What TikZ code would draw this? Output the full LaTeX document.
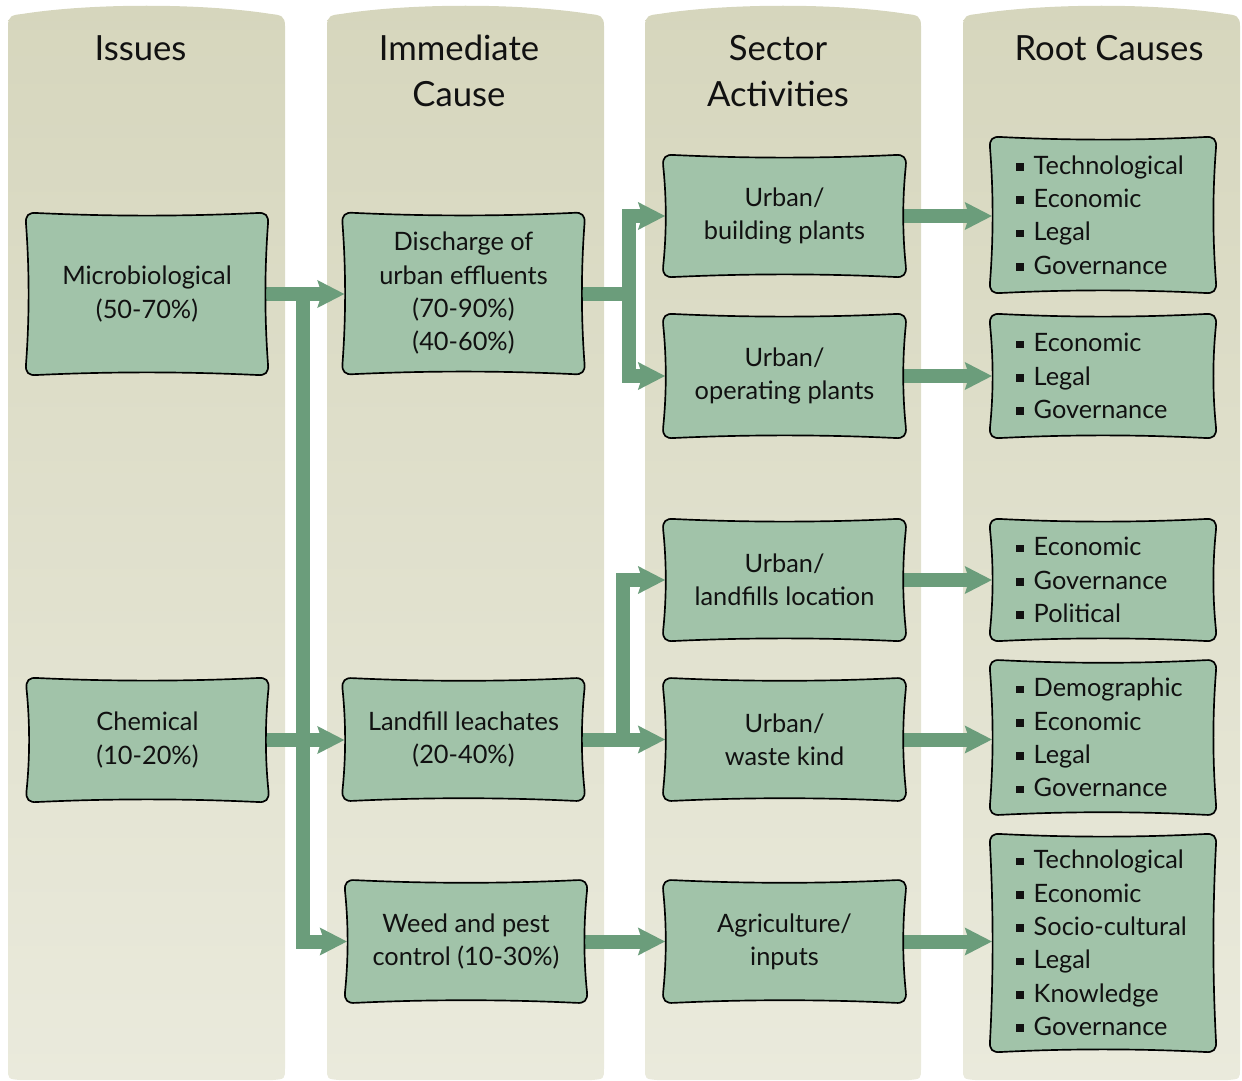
\documentclass[tikz,border=0pt]{standalone}
\usepackage{fontspec}
\setmainfont{Lato}
\usetikzlibrary{arrows.meta,calc}

\definecolor{colTop}{HTML}{D6D6BD}
\definecolor{colBot}{HTML}{EAEADC}
\definecolor{boxFill}{HTML}{A1C3A9}
\definecolor{arrowGreen}{HTML}{6B9D7B}
\definecolor{ink}{HTML}{111111}

\pgfdeclarelayer{bg}
\pgfdeclarelayer{conn}
\pgfdeclarelayer{mid}
\pgfsetlayers{bg,conn,mid,main}

% small square bullet for the cause lists
\newcommand\bx{\rule[0.14em]{0.3em}{0.3em}\hspace{0.4em}}

% outline of a box with slightly concave sides, drawn behind the node text
\newcommand\bowbox[1]{%
\begin{pgfonlayer}{mid}
\draw[boxline] let \p1=(#1.north west), \p2=(#1.south east),
  \n1={(\x2-\x1-16pt)/3}, \n2={(\y1-\y2-16pt)/3} in
  (\x1+8pt,\y1)
  .. controls (\x1+8pt+\n1,\y1-2.6pt) and (\x2-8pt-\n1,\y1-2.6pt) .. (\x2-8pt,\y1)
  .. controls (\x2-2pt,\y1+0.6pt) and (\x2+0.6pt,\y1-2pt) .. (\x2,\y1-8pt)
  .. controls (\x2-2.6pt,\y1-8pt-\n2) and (\x2-2.6pt,\y2+8pt+\n2) .. (\x2,\y2+8pt)
  .. controls (\x2+0.6pt,\y2+2pt) and (\x2-2pt,\y2-0.6pt) .. (\x2-8pt,\y2)
  .. controls (\x2-8pt-\n1,\y2+2.6pt) and (\x1+8pt+\n1,\y2+2.6pt) .. (\x1+8pt,\y2)
  .. controls (\x1+2pt,\y2-0.6pt) and (\x1-0.6pt,\y2+2pt) .. (\x1,\y2+8pt)
  .. controls (\x1+2.6pt,\y2+8pt+\n2) and (\x1+2.6pt,\y1-8pt-\n2) .. (\x1,\y1-8pt)
  .. controls (\x1-0.6pt,\y1-2pt) and (\x1+2pt,\y1+0.6pt) .. cycle;
\end{pgfonlayer}}

% shaded column panel with an arched top
\newcommand\colpanel[2]{%
\begin{pgfonlayer}{bg}
\shade[top color=colTop,bottom color=colBot]
  (#1,1068) -- (#1,26)
  .. controls (#1,16) and (#1+4,15) .. (#1+14,14)
  .. controls ({#1+0.3*(#2-#1)},3) and ({#2-0.3*(#2-#1)},3) .. (#2-14,14)
  .. controls (#2-4,15) and (#2,16) .. (#2,26)
  -- (#2,1068) .. controls (#2,1079) .. (#2-12,1080)
  -- (#1+12,1080) .. controls (#1,1079) .. (#1,1068) -- cycle;
\end{pgfonlayer}}

\tikzset{
  boxline/.style={draw=black, line width=1.25pt, fill=boxFill},
  box/.style={inner sep=0pt, outer sep=0pt, align=center, text=ink,
    font=\fontsize{19}{25}\selectfont, minimum width=181.5pt},
  rootbox/.style={inner xsep=19.5pt, inner ysep=0pt, outer sep=0pt,
    text width=130.5pt, align=left, text=ink,
    font=\fontsize{19}{25}\selectfont},
  title/.style={align=center, text=ink, inner sep=0pt,
    font=\fontsize{26}{34.5}\selectfont},
  conn/.style={draw=arrowGreen, line width=10.5pt, line join=miter,
    shorten <=-4pt},
  arr/.style={conn, -{Stealth[length=20pt,width=20pt,inset=3pt]},
    shorten >=-1.5pt},
}

\begin{document}
\begin{tikzpicture}[x=0.75pt,y=-0.75pt]
\useasboundingbox (0,0) rectangle (1242,1081);

\colpanel{8}{285}
\colpanel{327}{604}
\colpanel{645}{921}
\colpanel{963}{1240}

% column headings
\node[title] (t1) at (140.5,48) {Issues};
\node[title] (t2) at (459,71) {Immediate\\Cause};
\node[title] (t3) at (778,71) {Sector\\Activities};
\node[title] (t4) at (1109,48) {Root Causes};

% issues
\node[box, minimum height=121.5pt] (micro) at (147,294) {Microbiological\\(50-70\%)};
\node[box, minimum height=93pt] (chem) at (147.5,740) {Chemical\\(10-20\%)};

% immediate causes
\node[box, minimum height=121pt] (disc) at (463.5,293.5) {Discharge of\\urban effluents\\(70-90\%)\\(40-60\%)};
\node[box, minimum height=92pt] (land) at (463.5,739.5) {Landfill leachates\\(20-40\%)};
\node[box, minimum height=92pt] (weed) at (466,941.5) {Weed and pest\\control (10-30\%)};

% sector activities
\node[box, minimum width=182pt, minimum height=91.5pt] (bld) at (784.5,216) {Urban/\\building plants};
\node[box, minimum width=182pt, minimum height=93pt] (op) at (784.5,376) {Urban/\\operating plants};
\node[box, minimum width=182pt, minimum height=91.5pt] (loc) at (784.5,580) {Urban/\\landfills location};
\node[box, minimum width=182pt, minimum height=92pt] (waste) at (784.5,739.5) {Urban/\\waste kind};
\node[box, minimum width=182pt, minimum height=92pt] (agri) at (784.5,941.5) {Agriculture/\\inputs};

% root causes
\node[rootbox, minimum height=117pt] (rc1) at (1103,215) {\bx Technological\\\bx Economic\\\bx Legal\\\bx Governance};
\node[rootbox, minimum height=93pt] (rc2) at (1103,376) {\bx Economic\\\bx Legal\\\bx Governance};
\node[rootbox, minimum height=91.5pt] (rc3) at (1103,580) {\bx Economic\\\bx Governance\\\bx Political};
\node[rootbox, minimum height=116pt] (rc4) at (1103,737.5) {\bx Demographic\\\bx Economic\\\bx Legal\\\bx Governance};
\node[rootbox, minimum height=163.5pt] (rc5) at (1103,943) {\bx Technological\\\bx Economic\\\bx Socio-cultural\\\bx Legal\\\bx Knowledge\\\bx Governance};

\foreach \bname in {micro,chem,disc,land,weed,bld,op,loc,waste,agri,rc1,rc2,rc3,rc4,rc5}
  {\bowbox{\bname}}

% connectors
\begin{pgfonlayer}{conn}
\coordinate (j1) at (303,0 |- micro.east);
\coordinate (j2) at (629,0 |- disc.east);
\coordinate (j3) at (623,0 |- land.east);

\draw[arr] (micro.east) -- (micro.east -| disc.west);
\draw[arr] (j1) |- (weed.west);
\draw[arr] (chem.east) -- (chem.east -| land.west);

\draw[arr] (disc.east) -- (j2) |- (bld.west);
\draw[arr] (j2) |- (op.west);
\draw[arr] (land.east) -- (land.east -| waste.west);
\draw[arr] (j3) |- (loc.west);
\draw[arr] (weed.east) -- (weed.east -| agri.west);

\draw[arr] (bld.east) -- (bld.east -| rc1.west);
\draw[arr] (op.east) -- (op.east -| rc2.west);
\draw[arr] (loc.east) -- (loc.east -| rc3.west);
\draw[arr] (waste.east) -- (waste.east -| rc4.west);
\draw[arr] (agri.east) -- (agri.east -| rc5.west);
\end{pgfonlayer}
\end{tikzpicture}
\end{document}
